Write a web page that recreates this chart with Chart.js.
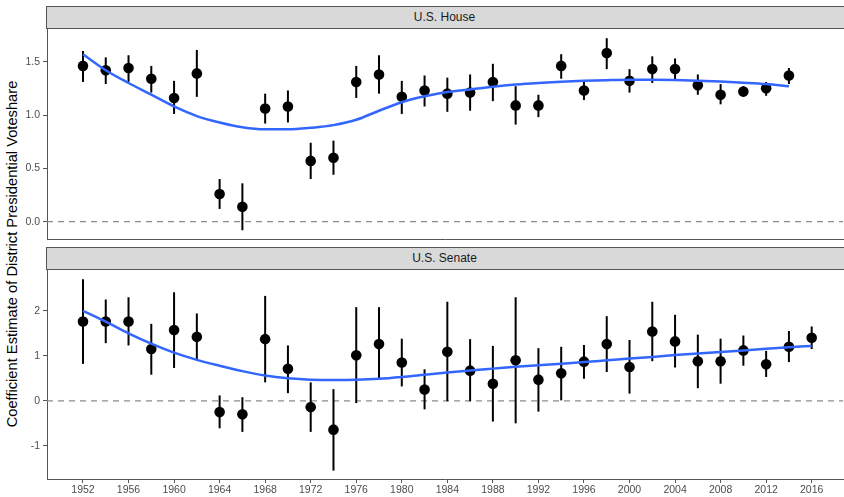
<!DOCTYPE html>
<html>
<head>
<meta charset="utf-8">
<script src="https://cdn.jsdelivr.net/npm/chart.js@4"></script>
<style>
  html, body { margin: 0; padding: 0; background: #fff; }
  #wrap { position: relative; width: 844px; height: 497px; overflow: hidden; font-family: "Liberation Sans", Arial, sans-serif; }
  .strip {
    position: absolute; left: 46px; width: 800px; height: 23px; box-sizing: border-box;
    background: #d9d9d9; border: 1px solid #555; border-right: none;
    font-size: 12px; color: #1a1a1a; line-height: 21px; text-align: center; padding-right: 4px;
  }
  .ytitle {
    position: absolute; left: 12px; top: 254px; width: 400px; margin-left: -200px;
    transform: rotate(-90deg); text-align: center; font-size: 14.7px; color: #000; line-height: 16px; margin-top: -8px;
  }
  canvas { position: absolute; left: 0; }
</style>
</head>
<body>
<div id="wrap">
  <div class="ytitle">Coefficient Estimate of District Presidential Voteshare</div>
  <div class="strip" style="top:6px">U.S. House</div>
  <canvas id="houseChart" width="844" height="211" style="top:29px"></canvas>
  <div class="strip" style="top:247px">U.S. Senate</div>
  <canvas id="senateChart" width="844" height="227" style="top:270px"></canvas>
</div>
<script>
// Colors
const COLORS = {
    point: '#000000',
    smooth: '#3366FF',
    axis: '#555555',
    tickText: '#4d4d4d',
    zeroLine: '#8c8c8c'
};

// Years (x axis)
const houseYears = [1952, 1954, 1956, 1958, 1960, 1962, 1964, 1966, 1968, 1970, 1972, 1974, 1976, 1978, 1980, 1982,
    1984, 1986, 1988, 1990, 1992, 1994, 1996, 1998, 2000, 2002, 2004, 2006, 2008, 2010, 2012, 2014];
const senateYears = [1952, 1954, 1956, 1958, 1960, 1962, 1964, 1966, 1968, 1970, 1972, 1974, 1976, 1978, 1980, 1982,
    1984, 1986, 1988, 1990, 1992, 1994, 1996, 1998, 2000, 2002, 2004, 2006, 2008, 2010, 2012, 2014, 2016];
const xTickYears = [1952, 1956, 1960, 1964, 1968, 1972, 1976, 1980, 1984, 1988, 1992, 1996, 2000, 2004, 2008, 2012, 2016];

// U.S. House
const houseEst = [1.46, 1.42, 1.44, 1.34, 1.16, 1.39, 0.26, 0.14, 1.06, 1.08, 0.57, 0.60, 1.31, 1.38, 1.17, 1.23,
    1.20, 1.21, 1.31, 1.09, 1.09, 1.46, 1.23, 1.58, 1.32, 1.43, 1.43, 1.28, 1.19, 1.22, 1.25, 1.37];
const houseHi = [1.60, 1.54, 1.56, 1.46, 1.32, 1.61, 0.40, 0.36, 1.20, 1.23, 0.74, 0.76, 1.46, 1.56, 1.32, 1.37,
    1.35, 1.38, 1.48, 1.27, 1.19, 1.57, 1.31, 1.72, 1.43, 1.55, 1.53, 1.38, 1.29, 1.27, 1.31, 1.44];
const houseLo = [1.31, 1.29, 1.31, 1.21, 1.01, 1.17, 0.12, -0.08, 0.92, 0.93, 0.40, 0.44, 1.16, 1.20, 1.01, 1.08,
    1.03, 1.04, 1.13, 0.91, 0.98, 1.34, 1.14, 1.43, 1.21, 1.30, 1.33, 1.19, 1.10, 1.17, 1.18, 1.29];
const houseSmooth = [1.57, 1.42, 1.30, 1.19, 1.08, 0.99, 0.93, 0.885, 0.866, 0.866, 0.88, 0.905, 0.955, 1.04, 1.12, 1.175,
    1.215, 1.24, 1.265, 1.285, 1.30, 1.312, 1.32, 1.326, 1.33, 1.33, 1.328, 1.322, 1.314, 1.303, 1.29, 1.27];
const houseYTicks = [0, 0.5, 1, 1.5];

// U.S. Senate
const senateEst = [1.76, 1.76, 1.76, 1.15, 1.57, 1.42, -0.25, -0.30, 1.37, 0.71, -0.14, -0.64, 1.01, 1.26, 0.85, 0.25,
    1.09, 0.67, 0.38, 0.90, 0.47, 0.61, 0.87, 1.26, 0.75, 1.54, 1.32, 0.88, 0.88, 1.12, 0.81, 1.20, 1.40];
const senateHi = [2.70, 2.25, 2.30, 1.71, 2.41, 1.94, 0.12, 0.08, 2.33, 1.23, 0.41, 0.26, 2.08, 2.08, 1.38, 0.70,
    2.20, 1.37, 1.22, 2.30, 1.17, 1.20, 1.24, 1.88, 1.35, 2.20, 1.91, 1.47, 1.38, 1.45, 1.11, 1.55, 1.65];
const senateLo = [0.82, 1.28, 1.23, 0.58, 0.73, 0.91, -0.61, -0.69, 0.41, 0.17, -0.69, -1.55, -0.05, 0.47, 0.32, -0.19,
    -0.01, -0.01, -0.46, -0.50, -0.24, 0.01, 0.49, 0.64, 0.16, 0.88, 0.74, 0.28, 0.38, 0.78, 0.53, 0.86, 1.15];
const senateSmooth = [2.00, 1.76, 1.50, 1.27, 1.07, 0.91, 0.78, 0.66, 0.56, 0.50, 0.47, 0.465, 0.47, 0.49, 0.53, 0.58,
    0.63, 0.675, 0.715, 0.755, 0.79, 0.825, 0.86, 0.90, 0.94, 0.975, 1.015, 1.05, 1.085, 1.12, 1.155, 1.19, 1.22];
const senateYTicks = [-1, 0, 1, 2];

// error bars + dashed zero line, drawn under the points
const errorBarPlugin = {
    id: 'errorBars',
    beforeDatasetsDraw(chart, args, opts) {
        const { ctx, chartArea, scales: { x, y } } = chart;
        ctx.save();
        // dashed y = 0
        const y0 = y.getPixelForValue(0);
        ctx.strokeStyle = COLORS.zeroLine;
        ctx.lineWidth = 1.2;
        ctx.setLineDash([6, 5]);
        ctx.beginPath();
        ctx.moveTo(chartArea.left, y0);
        ctx.lineTo(chartArea.right, y0);
        ctx.stroke();
        ctx.setLineDash([]);
        // vertical ranges
        ctx.strokeStyle = COLORS.point;
        ctx.lineWidth = 2;
        opts.years.forEach((yr, i) => {
            const px = x.getPixelForValue(yr);
            ctx.beginPath();
            ctx.moveTo(px, y.getPixelForValue(opts.lo[i]));
            ctx.lineTo(px, y.getPixelForValue(opts.hi[i]));
            ctx.stroke();
        });
        ctx.restore();
    }
};

// no extra room for half tick labels, the panel edges are fixed
function noPad(scale) {
    scale.paddingTop = 0;
    scale.paddingBottom = 0;
    scale.paddingLeft = 0;
    scale.paddingRight = 0;
}

function makePanel(id, years, est, lo, hi, smooth, yTicks, yMin, yMax, showX) {
    return new Chart(document.getElementById(id), {
        type: 'scatter',
        data: {
            datasets: [
                {
                    data: years.map((yr, i) => ({ x: yr, y: smooth[i] })),
                    showLine: true,
                    borderColor: COLORS.smooth,
                    borderWidth: 2.5,
                    pointRadius: 0,
                    cubicInterpolationMode: 'monotone',
                    order: 0
                },
                {
                    data: years.map((yr, i) => ({ x: yr, y: est[i] })),
                    backgroundColor: COLORS.point,
                    borderWidth: 0,
                    pointRadius: 5.3,
                    order: 1
                }
            ]
        },
        options: {
            responsive: false,
            animation: false,
            layout: { autoPadding: false, padding: { right: 1 } },
            plugins: {
                legend: { display: false },
                tooltip: { enabled: false },
                errorBars: { years: years, lo: lo, hi: hi }
            },
            scales: {
                x: {
                    type: 'linear',
                    min: 1948.84,
                    max: 2018.75,
                    afterBuildTicks: axis => { axis.ticks = xTickYears.map(v => ({ value: v })); },
                    afterFit: scale => { scale.height = showX ? 18 : 1; noPad(scale); },
                    grid: { display: showX, drawOnChartArea: false, drawTicks: true, tickLength: 4, color: COLORS.axis },
                    border: { display: true, color: COLORS.axis, width: 1 },
                    ticks: {
                        display: showX,
                        padding: 1,
                        maxRotation: 0,
                        color: COLORS.tickText,
                        font: { family: 'Liberation Sans', size: 10.5 },
                        callback: v => String(v)
                    }
                },
                y: {
                    min: yMin,
                    max: yMax,
                    afterBuildTicks: axis => { axis.ticks = yTicks.map(v => ({ value: v })); },
                    afterFit: scale => { scale.width = 47; noPad(scale); },
                    grid: { display: true, drawOnChartArea: false, drawTicks: true, tickLength: 4, color: COLORS.axis },
                    border: { display: true, color: COLORS.axis, width: 1 },
                    ticks: {
                        padding: 3,
                        color: COLORS.tickText,
                        font: { family: 'Liberation Sans', size: 10.5 },
                        callback: v => showX ? String(v) : v.toFixed(1)
                    }
                }
            }
        },
        plugins: [errorBarPlugin]
    });
}

makePanel('houseChart', houseYears, houseEst, houseLo, houseHi, houseSmooth, houseYTicks, -0.162, 1.806, false);
makePanel('senateChart', senateYears, senateEst, senateLo, senateHi, senateSmooth, senateYTicks, -1.736, 2.905, true);
</script>
</body>
</html>
